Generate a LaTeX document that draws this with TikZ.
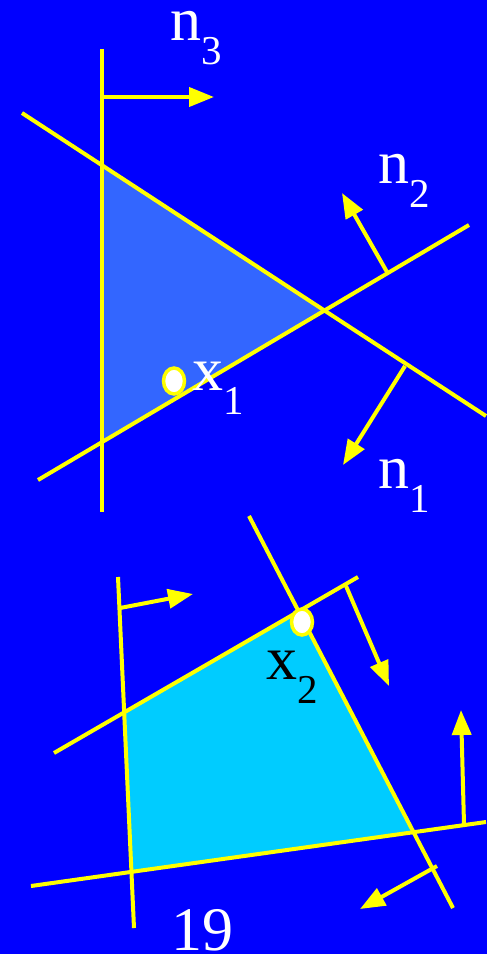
\documentclass[tikz,border=0pt]{standalone}
\usepackage{fontspec}
\setmainfont{Liberation Serif}
\usetikzlibrary{arrows.meta,shapes.geometric}

\definecolor{slideblue}{HTML}{0000FF}
\definecolor{planeyellow}{HTML}{FFFF00}
\definecolor{feasibleA}{HTML}{3366FF}
\definecolor{feasibleB}{HTML}{00CCFF}
\newcommand{\lowidx}[1]{\raisebox{-24pt}{\fontsize{41}{41}\selectfont #1}}

\begin{document}
\begin{tikzpicture}[
    x=1pt, y=-1pt,
    plane/.style={draw=planeyellow, line width=4pt},
    normal/.style={-{Triangle[length=25pt, width=19pt]}, draw=planeyellow, line width=4pt},
    vertex/.style={ellipse, draw=planeyellow, fill=white, line width=3.5pt,
        minimum width=21pt, minimum height=26pt, inner sep=0pt},
    lbl/.style={font=\fontsize{62}{62}\selectfont, text=white, inner sep=0pt,
        anchor=base west, text height=30pt}
]

\fill[slideblue] (0,0) rectangle (487,954);
\useasboundingbox (0,0) rectangle (487,954);

% upper picture: triangle
\coordinate (p3a) at (102,49);
\coordinate (p3b) at (102,512);
\coordinate (p1a) at (22,113);
\coordinate (p1b) at (486,416);
\coordinate (p2a) at (38,480);
\coordinate (p2b) at (469,225);

\fill[feasibleA] (intersection of p3a--p3b and p1a--p1b)
    -- (intersection of p1a--p1b and p2a--p2b)
    -- (intersection of p2a--p2b and p3a--p3b) -- cycle;

\draw[plane] (p3a) -- (p3b);
\draw[plane] (p1a) -- (p1b);
\draw[plane] (p2a) -- (p2b);

\coordinate (n3base) at (102,97);
\coordinate (n3tip) at (214,97);
\coordinate (n2base) at (387,272);
\coordinate (n2tip) at (342,193);
\coordinate (n1base) at (405,366);
\coordinate (n1tip) at (343,465);
\draw[normal] (n3base) -- (n3tip);
\draw[normal] (n2base) -- (n2tip);
\draw[normal] (n1base) -- (n1tip);

\node[vertex] (x1pt) at (174,381) {};

\node[lbl] (n3) at (170,40) {n\lowidx{3}};
\node[lbl] (n2) at (378,183) {n\lowidx{2}};
\node[lbl] (n1) at (378,488) {n\lowidx{1}};
\node[lbl] (x1) at (192,390) {x\lowidx{1}};

% lower picture: quadrilateral
\coordinate (q1a) at (118,577);
\coordinate (q1b) at (134,928);
\coordinate (q2a) at (54,753);
\coordinate (q2b) at (358,577);
\coordinate (q3a) at (249,516);
\coordinate (q3b) at (453,908);
\coordinate (q4a) at (31,886);
\coordinate (q4b) at (486,822);

\fill[feasibleB] (intersection of q1a--q1b and q2a--q2b)
    -- (intersection of q2a--q2b and q3a--q3b)
    -- (intersection of q3a--q3b and q4a--q4b)
    -- (intersection of q4a--q4b and q1a--q1b) -- cycle;

\draw[plane] (q1a) -- (q1b);
\draw[plane] (q2a) -- (q2b);
\draw[plane] (q3a) -- (q3b);
\draw[plane] (q4a) -- (q4b);

\coordinate (m1base) at (120,608);
\coordinate (m1tip) at (193,594);
\coordinate (m2base) at (346,586);
\coordinate (m2tip) at (389,686);
\coordinate (m3base) at (464,824);
\coordinate (m3tip) at (461,710);
\coordinate (m4base) at (437,866);
\coordinate (m4tip) at (360,909);
\draw[normal] (m1base) -- (m1tip);
\draw[normal] (m2base) -- (m2tip);
\draw[normal] (m3base) -- (m3tip);
\draw[normal] (m4base) -- (m4tip);

\node[vertex] (x2pt) at (302,622) {};

\node[lbl, text=black] (x2) at (266,679) {x\lowidx{2}};
\node[lbl, anchor=base, text height=42pt, text depth=0pt] (pagenum) at (202,950) {19};

\end{tikzpicture}
\end{document}
